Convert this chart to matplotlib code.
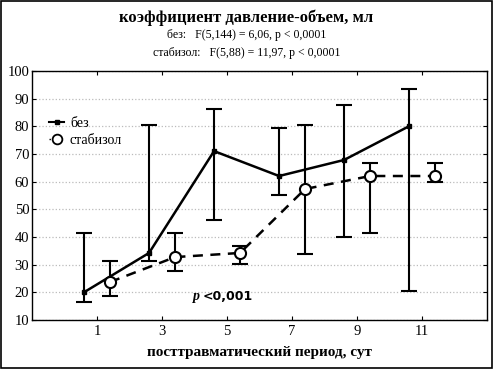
import matplotlib
matplotlib.use("Agg")
import matplotlib.pyplot as plt
from matplotlib.lines import Line2D
import numpy as np

plt.rcParams['font.family'] = ['Liberation Serif', 'DejaVu Serif']

# без
x_bez = [0.6, 2.6, 4.6, 6.6, 8.6, 10.6]
y_bez = [20.0, 34.2, 71.0, 62.0, 67.8, 80.0]
hi_bez = [41.4, 80.4, 86.2, 79.3, 87.6, 93.4]
lo_bez = [16.5, 31.3, 46.1, 55.1, 40.0, 20.5]

# стабизол
x_st = [1.4, 3.4, 5.4, 7.4, 9.4, 11.4]
y_st = [23.7, 32.7, 34.2, 57.3, 62.0, 62.0]
hi_st = [31.3, 41.4, 36.7, 80.4, 66.7, 66.7]
lo_st = [18.7, 27.7, 30.2, 33.8, 41.4, 59.8]

xticks = [1, 3, 5, 7, 9, 11]
yticks = [10, 20, 30, 40, 50, 60, 70, 80, 90, 100]

fig = plt.figure(figsize=(4.93, 3.69), dpi=100)
ax = fig.add_axes([0.065, 0.133, 0.923, 0.675])

err_bez = [np.array(y_bez) - np.array(lo_bez), np.array(hi_bez) - np.array(y_bez)]
err_st = [np.array(y_st) - np.array(lo_st), np.array(hi_st) - np.array(y_st)]

ax.errorbar(x_bez, y_bez, yerr=err_bez, color='black', lw=1.8, elinewidth=1.5,
            capsize=6, capthick=1.5, marker='s', markersize=3.5, zorder=3)
ax.errorbar(x_st, y_st, yerr=err_st, color='black', lw=1.8, ls=(0, (4, 3)), elinewidth=1.5,
            capsize=6, capthick=1.5, marker='o', markersize=8, markerfacecolor='white',
            markeredgewidth=1.5, zorder=4)

ax.set_xlim(-1, 13)
ax.set_ylim(10, 100)
ax.set_xticks(xticks)
ax.set_yticks(yticks)
ax.tick_params(direction='in', top=True, right=True, labelsize=10.5, length=3, width=0.8)
ax.tick_params(axis='y', pad=2)
ax.grid(axis='y', color='#bbbbbb', ls=':', lw=0.9)
for s in ax.spines.values():
    s.set_linewidth(1.0)

ax.set_xlabel('посттравматический период, сут', fontsize=11, fontweight='bold', labelpad=6)

ax.text(3.95, 18.4, 'p', fontsize=10, fontweight='bold', style='italic', va='center')
ax.text(4.25, 18.4, '<0,001', fontsize=9, fontweight='bold', va='center', family=['DejaVu Sans'])

h_bez = Line2D([], [], color='black', lw=1.5, marker='s', markersize=3.5, markevery=[1])
h_st = Line2D([], [], color='black', lw=1.0, ls=(0, (1, 3)), marker='o', markersize=7,
              markerfacecolor='white', markeredgewidth=1.3, markevery=[1])
leg = ax.legend([h_bez, h_st], ['без', 'стабизол'], loc='upper left',
                bbox_to_anchor=(0.01, 0.865), frameon=False, fontsize=10,
                handlelength=1.1, handletextpad=0.4, labelspacing=0.3)

fig.text(0.5, 0.953, 'коэффициент давление-объем, мл', ha='center', va='center',
         fontsize=12, fontweight='bold')
fig.text(0.5, 0.904, 'без:   F(5,144) = 6,06, p < 0,0001', ha='center', va='center', fontsize=8.5)
fig.text(0.5, 0.857, 'стабизол:   F(5,88) = 11,97, p < 0,0001', ha='center', va='center', fontsize=8.5)

fig.patches.append(plt.Rectangle((0.002, 0.003), 0.996, 0.994, transform=fig.transFigure,
                                 fill=False, edgecolor='black', lw=1.2))

fig.savefig('out.png', dpi=100)
